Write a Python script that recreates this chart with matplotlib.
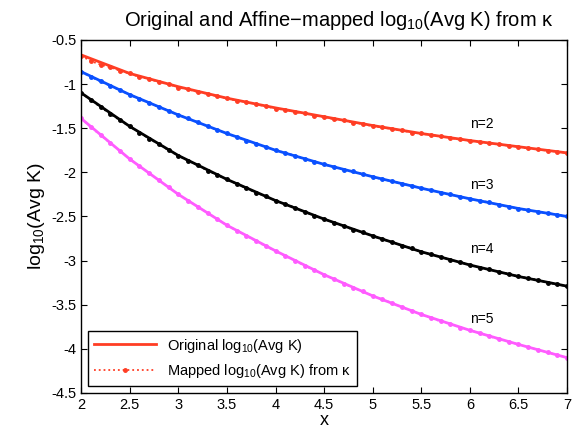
import numpy as np
import matplotlib
matplotlib.use("Agg")
import matplotlib.pyplot as plt

plt.rcParams['font.family'] = ['Liberation Sans', 'DejaVu Sans']
plt.rcParams['mathtext.fontset'] = 'custom'
plt.rcParams['mathtext.rm'] = 'Liberation Sans'
plt.rcParams['mathtext.it'] = 'Liberation Sans'

# original curves, read every 0.5 in x
x_orig = [2.0, 2.5, 3.0, 3.5, 4.0, 4.5, 5.0, 5.5, 6.0, 6.5, 7.0]
orig_n2 = [-0.67, -0.88, -1.03, -1.16, -1.27, -1.37, -1.47, -1.56, -1.64, -1.71, -1.78]
orig_n3 = [-0.86, -1.12, -1.35, -1.56, -1.75, -1.91, -2.05, -2.18, -2.30, -2.41, -2.50]
orig_n4 = [-1.10, -1.48, -1.81, -2.08, -2.32, -2.53, -2.72, -2.90, -3.05, -3.18, -3.29]
orig_n5 = [-1.39, -1.85, -2.25, -2.60, -2.89, -3.16, -3.40, -3.61, -3.79, -3.95, -4.10]

# mapped points, every 0.1 in x
x_map = [2.0, 2.1, 2.2, 2.3, 2.4, 2.5, 2.6, 2.7, 2.8, 2.9,
         3.0, 3.1, 3.2, 3.3, 3.4, 3.5, 3.6, 3.7, 3.8, 3.9,
         4.0, 4.1, 4.2, 4.3, 4.4, 4.5, 4.6, 4.7, 4.8, 4.9,
         5.0, 5.1, 5.2, 5.3, 5.4, 5.5, 5.6, 5.7, 5.8, 5.9,
         6.0, 6.1, 6.2, 6.3, 6.4, 6.5, 6.6, 6.7, 6.8, 6.9, 7.0]
map_n2 = [-0.68, -0.74, -0.78, -0.81, -0.85, -0.88, -0.92, -0.94, -0.98, -1.00,
          -1.04, -1.06, -1.09, -1.11, -1.14, -1.16, -1.19, -1.20, -1.23, -1.25,
          -1.28, -1.29, -1.32, -1.33, -1.36, -1.37, -1.40, -1.41, -1.44, -1.45,
          -1.48, -1.49, -1.51, -1.525, -1.55, -1.56, -1.58, -1.59, -1.615, -1.625,
          -1.645, -1.655, -1.67, -1.68, -1.70, -1.71, -1.73, -1.74, -1.755, -1.765, -1.78]
map_n3 = [-0.86, -0.92, -0.97, -1.02, -1.07, -1.12, -1.17, -1.21, -1.26, -1.30,
          -1.35, -1.39, -1.43, -1.48, -1.52, -1.56, -1.60, -1.64, -1.68, -1.71,
          -1.75, -1.78, -1.81, -1.85, -1.88, -1.91, -1.94, -1.97, -1.99, -2.02,
          -2.05, -2.08, -2.10, -2.13, -2.15, -2.18, -2.20, -2.23, -2.25, -2.28,
          -2.30, -2.32, -2.34, -2.37, -2.39, -2.41, -2.43, -2.45, -2.46, -2.48, -2.50]
map_n4 = [-1.10, -1.18, -1.26, -1.34, -1.41, -1.48, -1.55, -1.62, -1.68, -1.75,
          -1.81, -1.87, -1.92, -1.98, -2.03, -2.08, -2.13, -2.18, -2.23, -2.27,
          -2.32, -2.36, -2.40, -2.45, -2.49, -2.53, -2.57, -2.61, -2.65, -2.68,
          -2.72, -2.76, -2.79, -2.83, -2.86, -2.90, -2.93, -2.96, -2.99, -3.02,
          -3.05, -3.08, -3.10, -3.13, -3.15, -3.18, -3.20, -3.22, -3.25, -3.27, -3.29]
map_n5 = [-1.39, -1.49, -1.58, -1.67, -1.76, -1.85, -1.93, -2.01, -2.09, -2.17,
          -2.25, -2.32, -2.39, -2.46, -2.53, -2.60, -2.66, -2.72, -2.78, -2.84,
          -2.89, -2.95, -3.00, -3.06, -3.11, -3.16, -3.21, -3.26, -3.31, -3.35,
          -3.40, -3.44, -3.48, -3.53, -3.57, -3.61, -3.65, -3.69, -3.72, -3.76,
          -3.79, -3.82, -3.86, -3.89, -3.92, -3.95, -3.98, -4.01, -4.04, -4.07, -4.10]

labels = ["n=2", "n=3", "n=4", "n=5"]
label_y = [-1.50, -2.19, -2.91, -3.71]
colors = ["#ff3d24", "#0a50ff", "#000000", "#ff5cff"]

fig = plt.figure(figsize=(5.84, 4.34), dpi=100)
ax = fig.add_axes([0.139, 0.0945, 0.832, 0.8135])

origs = [orig_n2, orig_n3, orig_n4, orig_n5]
maps = [map_n2, map_n3, map_n4, map_n5]
for i in range(4):
    ax.plot(x_orig, origs[i], color=colors[i], lw=2,
            label="Original log$_{10}$(Avg K)" if i == 0 else None)
    ax.plot(x_map, maps[i], color=colors[i], ls=":", lw=1.3, marker=".", ms=5,
            label="Mapped log$_{10}$(Avg K) from \u03ba" if i == 0 else None)
    ax.text(6.0, label_y[i], labels[i], fontsize=10)

ax.set_xlim(2, 7)
ax.set_ylim(-4.5, -0.5)
ax.set_xticks(np.arange(2, 7.01, 0.5))
ax.set_yticks(np.arange(-4.5, -0.49, 0.5))
ax.set_xticklabels(["%g" % v for v in np.arange(2, 7.01, 0.5)])
ax.set_yticklabels(["%g" % v for v in np.arange(-4.5, -0.49, 0.5)])
ax.tick_params(direction="in", top=True, right=True, labelsize=10.5, length=4)
for s in ax.spines.values():
    s.set_linewidth(1.0)

ax.set_xlabel("x", fontsize=13, labelpad=0)
ax.set_ylabel("log$_{10}$(Avg K)", fontsize=14, labelpad=3)
ax.set_title("Original and Affine\u2212mapped log$_{10}$(Avg K) from \u03ba",
             fontsize=14.5, x=0.53, pad=10)

leg = ax.legend(loc="lower left", fontsize=10.5, fancybox=False, framealpha=1,
                edgecolor="black", borderaxespad=0.5, handlelength=4.2)
leg.get_frame().set_linewidth(1.0)

fig.savefig("out.png", dpi=100)
